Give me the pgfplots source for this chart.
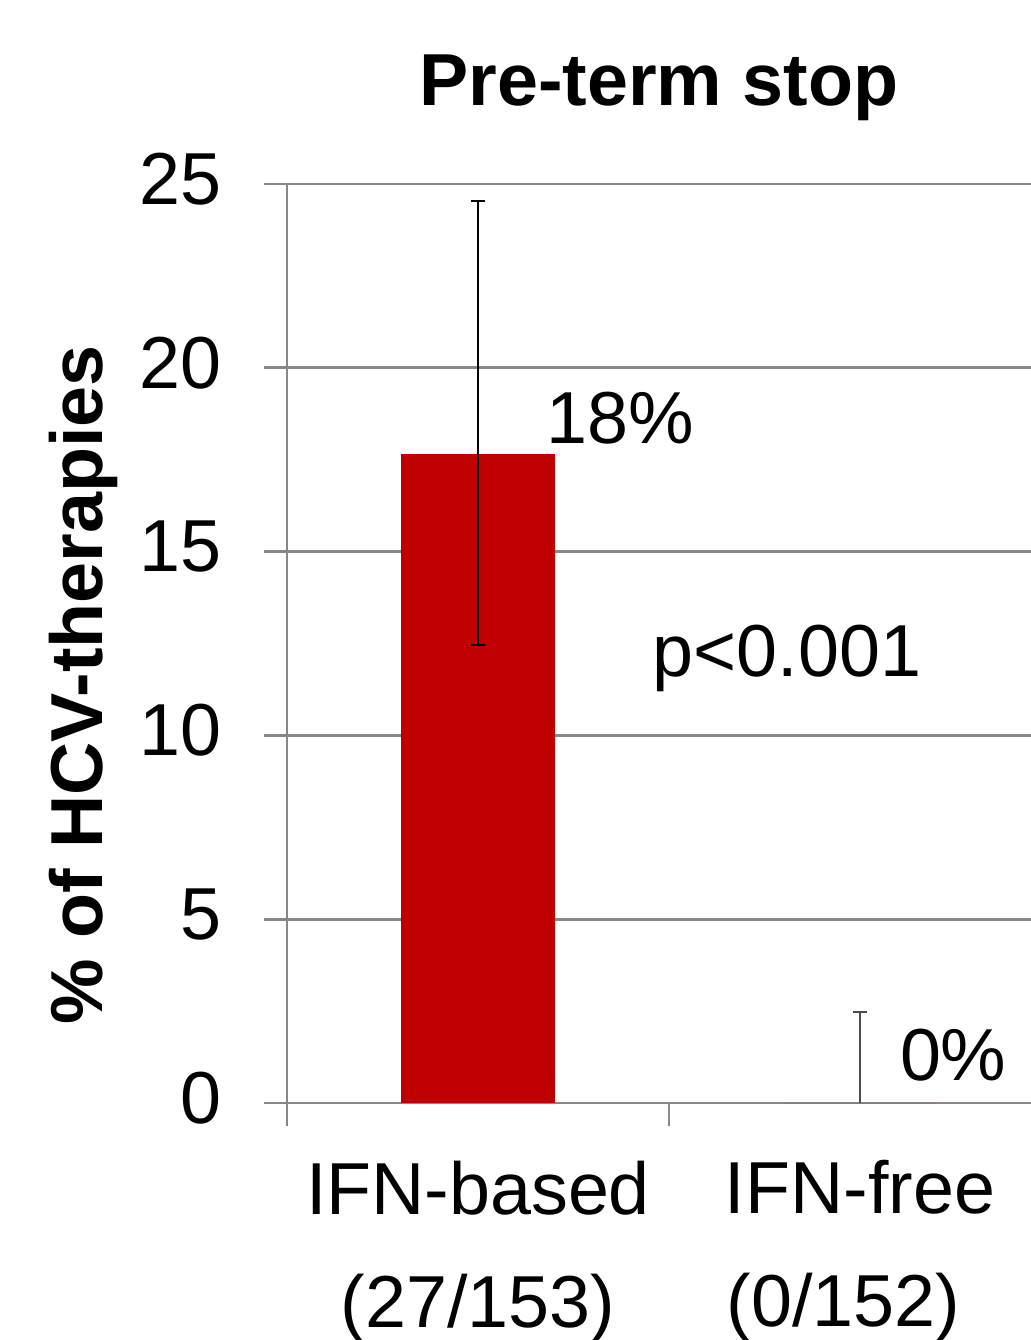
\documentclass[border=0pt]{standalone}
\usepackage{fontspec}
\setmainfont{Liberation Sans}
\usepackage{pgfplots}
\pgfplotsset{compat=1.18}
\definecolor{axgray}{RGB}{136,136,136}
\definecolor{barred}{RGB}{192,0,0}
\newcommand{\bigfont}{\fontsize{22.1}{33.9}\selectfont}
\begin{document}
\begin{tikzpicture}
\begin{axis}[
  scale only axis,
  width=223.2pt, height=275.7pt,
  xmin=-0.5, xmax=1.4476,
  ymin=0, ymax=25,
  ytick={0,5,10,15,20,25},
  xtick={-0.5,0.5},
  xticklabels={,},
  extra x ticks={0,1},
  extra x tick labels={{IFN-based\\(27/153)},{IFN-free\\(0/152)\hspace*{10pt}}},
  extra x tick style={major tick length=0pt, grid=none},
  axis x line=bottom, axis y line=left,
  axis line style={-, draw=axgray, line width=0.8pt},
  tick align=outside,
  major tick length=6.8pt,
  tick style={draw=axgray, line width=0.8pt},
  ymajorgrids,
  grid style={draw=axgray, line width=0.8pt},
  /pgf/number format/assume math mode=true,
  tick label style={font=\bigfont, text=black},
  yticklabel style={anchor=east, inner sep=0pt, xshift=-12.6pt, yshift=1.5pt},
  xticklabel style={anchor=north, inner sep=0pt, align=center, yshift=-17.1pt},
  title={Pre-term stop},
  title style={at={(rel axis cs:0.5,1)}, anchor=base, yshift=17.4pt, font=\bigfont\bfseries, inner sep=0pt},
  ylabel={\% of HCV-therapies},
  ylabel style={at={(rel axis cs:0,0.4548)}, anchor=base, yshift=55.2pt, font=\bigfont\bfseries, inner sep=0pt},
  ybar, bar width=46.2pt, bar shift=0pt,
  clip=false,
]
\addplot[fill=barred, draw=none,
  error bars/.cd, y dir=both, y explicit,
  error bar style={black, line width=0.45pt},
  error mark options={rotate=90, mark size=2pt, black, line width=0.45pt}]
  coordinates {(0,17.65) +- (0,6.89) -= (0,5.19)};
\addplot[fill=barred, draw=none,
  error bars/.cd, y dir=plus, y explicit,
  error bar style={black!70, line width=0.45pt},
  error mark options={rotate=90, mark size=2pt, black!70, line width=0.45pt}]
  coordinates {(1,0) +- (0,2.48)};
\node[anchor=base west, inner sep=0pt, font=\bigfont] at (axis cs:0.178,17.95) {18\%};
\node[anchor=base west, inner sep=0pt, font=\bigfont] at (axis cs:0.4555,11.59) {p<0.001};
\node[anchor=base west, inner sep=0pt, font=\bigfont] at (axis cs:1.103,0.6) {0\%};
\coordinate (bl) at (rel axis cs:0,0);
\coordinate (tr) at (rel axis cs:1,1);
\end{axis}
\pgfresetboundingbox
\path[use as bounding box] ([shift={(-86.1pt,-71.1pt)}]bl) rectangle ([shift={(0pt,55.2pt)}]tr);
\end{tikzpicture}
\end{document}
